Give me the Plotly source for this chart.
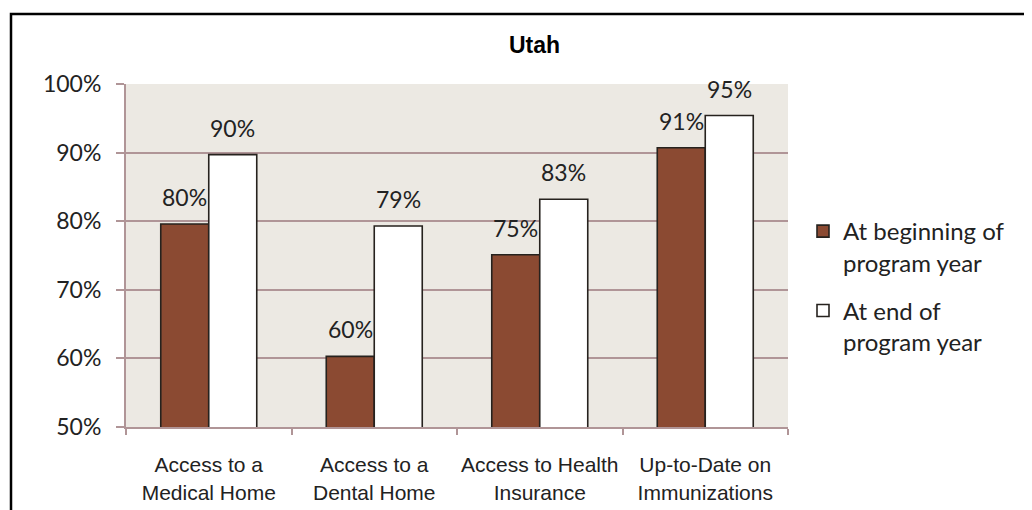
import plotly.graph_objects as go

categories = ["Access to a<br>Medical Home", "Access to a<br>Dental Home",
              "Access to Health<br>Insurance", "Up-to-Date on<br>Immunizations"]
beginning = [0.796, 0.603, 0.751, 0.907]
end = [0.897, 0.793, 0.832, 0.954]
series_names = ["At beginning of<br>program year", "At end of<br>program year"]
y_ticks = [0.5, 0.6, 0.7, 0.8, 0.9, 1.0]
title_text = "Utah"

OFF = 8  # default page body margin
W, H = 1032 - OFF, 510 - OFF
L, R, T, B = 126 - OFF, 788 - OFF, 84 - OFF, 427 - OFF
pw, ph = R - L, B - T

num_font = dict(family="Lato, Open Sans, sans-serif", size=23, color="#222222")
leg_font = dict(family="Lato, Open Sans, sans-serif", size=24, color="#222222")
outline = dict(color="#26221e", width=1.6)

BARGAP = 0.42
bar_w = pw / len(categories) * (1 - BARGAP) / 2

fig = go.Figure()
fig.add_trace(go.Bar(
    x=categories, y=beginning, name=series_names[0], legendgroup="a",
    marker=dict(color="#8B4A32", line=outline), hoverinfo="x+y",
))
fig.add_trace(go.Bar(
    x=categories, y=end, name=series_names[1], legendgroup="b",
    marker=dict(color="#FFFFFF", line=outline), hoverinfo="x+y",
))


def px_x(p):
    return (p - OFF - L) / pw


def px_y(p):
    return (B - (p - OFF)) / ph


annotations = []
for s, vals in enumerate([beginning, end]):
    for c, v in zip(categories, vals):
        annotations.append(dict(
            x=c, y=v, xref="x", yref="y", text=f"{v:.0%}",
            showarrow=False, xanchor="center", yanchor="bottom",
            xshift=(s - 0.5) * bar_w, yshift=11, font=num_font,
        ))
annotations.append(dict(
    text="<b>" + title_text + "</b>", xref="paper", yref="paper",
    x=px_x(534), y=px_y(45), xanchor="center", yanchor="middle",
    showarrow=False,
    font=dict(family="Liberation Sans, Arial, sans-serif", size=23, color="#000000"),
))

fig.update_layout(
    width=W, height=H,
    margin=dict(l=L, r=W - R, t=T, b=H - B, autoexpand=False),
    paper_bgcolor="white",
    plot_bgcolor="#ECE9E3",
    barmode="group",
    bargap=BARGAP,
    bargroupgap=0,
    showlegend=True,
    legend=dict(
        x=px_x(803), y=px_y(209), xanchor="left", yanchor="top",
        font=leg_font, valign="top", tracegroupgap=14,
        bgcolor="rgba(0,0,0,0)",
    ),
    xaxis=dict(
        showline=True, linecolor="#B09597", linewidth=2,
        ticks="outside", tickson="boundaries", ticklen=6, tickcolor="#B09597", tickwidth=2,
        tickfont=dict(family="Liberation Sans, Arial, sans-serif", size=21, color="#222222"),
        tickangle=0, ticklabelstandoff=18,
        showgrid=False, fixedrange=True,
    ),
    yaxis=dict(
        range=[0.5, 1.0], tickvals=y_ticks, tickformat=".0%",
        showline=True, linecolor="#B09597", linewidth=2,
        ticks="outside", ticklen=8, tickcolor="#B09597", tickwidth=2,
        showgrid=True, gridcolor="#B09597", gridwidth=2,
        tickfont=num_font, ticklabelstandoff=10, zeroline=False, fixedrange=True,
    ),
    annotations=annotations,
    shapes=[dict(
        type="rect", xref="paper", yref="paper",
        x0=px_x(11), x1=px_x(1045), y0=px_y(525), y1=px_y(14),
        line=dict(color="#000000", width=2.5), fillcolor="rgba(0,0,0,0)", layer="above",
    )],
)

fig.write_html("out.html")
